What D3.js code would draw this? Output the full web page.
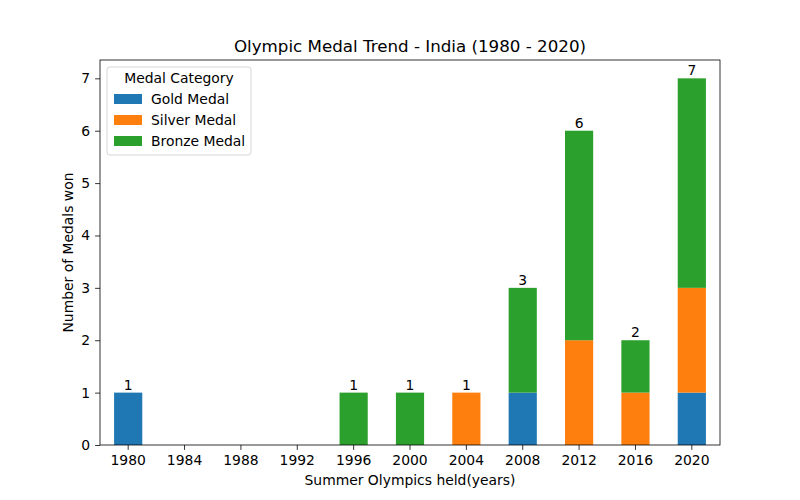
<!DOCTYPE html>
<html>
<head>
<meta charset="utf-8">
<script src="https://cdn.jsdelivr.net/npm/d3@7"></script>
<style>
body { margin: 0; background: #fff; }
text { font-family: "DejaVu Sans", sans-serif; fill: #000; }
</style>
</head>
<body>
<script>
const years = ["1980","1984","1988","1992","1996","2000","2004","2008","2012","2016","2020"];
const gold   = [1, 0, 0, 0, 0, 0, 0, 1, 0, 0, 1];
const silver = [0, 0, 0, 0, 0, 0, 1, 0, 2, 1, 2];
const bronze = [0, 0, 0, 0, 1, 1, 0, 2, 4, 1, 4];
const seriesNames = ["Gold Medal", "Silver Medal", "Bronze Medal"];
const colors = ["#1f77b4", "#ff7f0e", "#2ca02c"];

const width = 800, height = 500;
const margin = {top: 60, right: 80, bottom: 55, left: 100};

const svg = d3.select("body").append("svg")
  .attr("width", width)
  .attr("height", height);

const rows = years.map((y, i) => ({year: y, gold: gold[i], silver: silver[i], bronze: bronze[i]}));
const stack = d3.stack().keys(["gold", "silver", "bronze"])(rows);

const x = d3.scaleBand().domain(years)
  .range([margin.left, width - margin.right])
  .paddingInner(0.5).paddingOuter(0.25);
const totals = rows.map(d => d.gold + d.silver + d.bronze);
const y = d3.scaleLinear().domain([0, d3.max(totals) * 1.05])
  .range([height - margin.bottom, margin.top]);

// bars
stack.forEach((layer, k) => {
  svg.append("g").selectAll("rect")
    .data(layer.filter(d => d[1] > d[0]))
    .join("rect")
    .attr("x", d => x(d.data.year))
    .attr("width", x.bandwidth())
    .attr("y", d => y(d[1]))
    .attr("height", d => y(d[0]) - y(d[1]))
    .attr("fill", colors[k]);
});

// total labels
svg.append("g").selectAll("text")
  .data(rows.filter((d, i) => totals[i] > 0))
  .join("text")
  .attr("x", d => x(d.year) + x.bandwidth() / 2)
  .attr("y", d => y(d.gold + d.silver + d.bronze) - 3)
  .attr("text-anchor", "middle")
  .attr("font-size", "13.9px")
  .text(d => d.gold + d.silver + d.bronze);

// axes
const xAxis = svg.append("g")
  .attr("transform", `translate(0,${height - margin.bottom})`)
  .call(d3.axisBottom(x).tickSizeOuter(0).tickSize(4.9).tickPadding(4.9));
const yAxis = svg.append("g")
  .attr("transform", `translate(${margin.left},0)`)
  .call(d3.axisLeft(y).ticks(7).tickSizeOuter(0).tickSize(4.9).tickPadding(4.9));
[xAxis, yAxis].forEach(a => {
  a.selectAll("text").attr("font-size", "13.9px").attr("font-family", "DejaVu Sans, sans-serif");
  a.selectAll("line").attr("stroke", "#000").attr("stroke-width", 0.8);
  a.select(".domain").remove();
});

// frame
svg.append("rect")
  .attr("x", margin.left).attr("y", margin.top)
  .attr("width", width - margin.left - margin.right)
  .attr("height", height - margin.top - margin.bottom)
  .attr("fill", "none").attr("stroke", "#000").attr("stroke-width", 0.8);

// titles
svg.append("text")
  .attr("x", (margin.left + width - margin.right) / 2)
  .attr("y", margin.top - 8)
  .attr("text-anchor", "middle")
  .attr("font-size", "16.7px")
  .text("Olympic Medal Trend - India (1980 - 2020)");
svg.append("text")
  .attr("x", (margin.left + width - margin.right) / 2)
  .attr("y", 485)
  .attr("text-anchor", "middle")
  .attr("font-size", "13.9px")
  .text("Summer Olympics held(years)");
svg.append("text")
  .attr("transform", `translate(73,${(margin.top + height - margin.bottom) / 2}) rotate(-90)`)
  .attr("text-anchor", "middle")
  .attr("font-size", "13.9px")
  .text("Number of Medals won");

// legend
const legend = svg.append("g").attr("transform", "translate(107,67)");
legend.append("rect")
  .attr("width", 144).attr("height", 88).attr("rx", 3)
  .attr("fill", "#fff").attr("fill-opacity", 0.8)
  .attr("stroke", "#ccc").attr("stroke-width", 0.8);
legend.append("text")
  .attr("x", 72).attr("y", 16)
  .attr("text-anchor", "middle")
  .attr("font-size", "13.9px")
  .text("Medal Category");
seriesNames.forEach((name, i) => {
  const gy = 27 + i * 21;
  legend.append("rect")
    .attr("x", 7).attr("y", gy).attr("width", 28).attr("height", 10)
    .attr("fill", colors[i]);
  legend.append("text")
    .attr("x", 44).attr("y", gy + 10)
    .attr("font-size", "13.9px")
    .text(name);
});
</script>
</body>
</html>
